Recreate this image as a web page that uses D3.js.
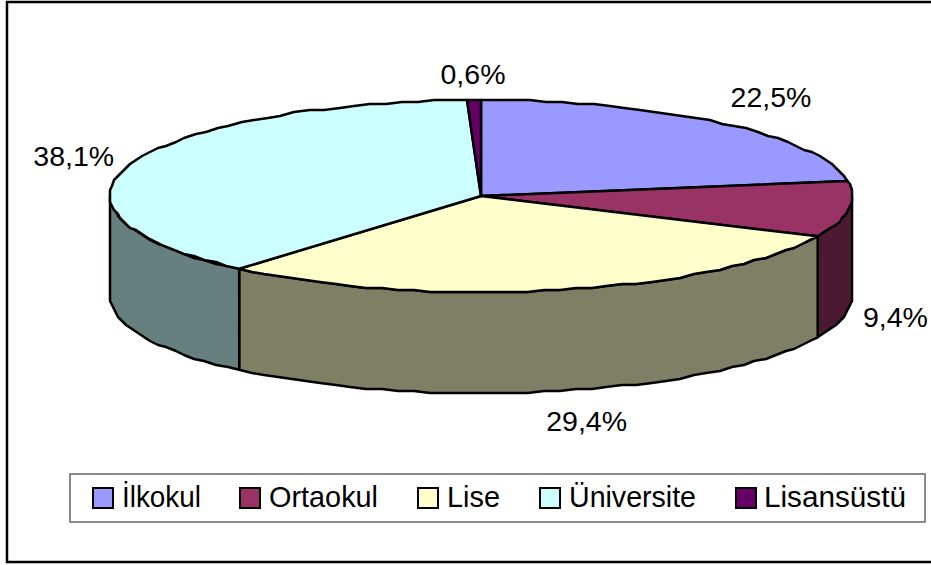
<!DOCTYPE html>
<html>
<head>
<meta charset="utf-8">
<script src="https://cdn.jsdelivr.net/npm/d3@7"></script>
<style>
  html, body { margin: 0; padding: 0; background: #fff; overflow: hidden; }
  text { font-family: "Liberation Sans", Arial, sans-serif; fill: #000; }
</style>
</head>
<body>
<div id="chart"></div>
<script>
const categories = ["İlkokul", "Ortaokul", "Lise", "Üniversite", "Lisansüstü"];
const values = [22.5, 9.4, 29.4, 38.1, 0.6];
const valueLabels = ["22,5%", "9,4%", "29,4%", "38,1%", "0,6%"];
const colors = ["#9999FF", "#993366", "#FFFFCC", "#CCFFFF", "#660066"];
const sideColors = ["#4C4C7F", "#4C1933", "#7F7F66", "#667F7F", "#330033"];

const width = 931, height = 565;
const cx = 481, cy = 196, rx = 371, ry = 96, depth = 101;

// label offset from the rim point at the middle of each slice
const labelOffsets = [[49, -26], [47, 108], [27, 131], [-57, -8], [-1, -26]];
// legend key and text positions
const legendKeyX = [93, 240, 418, 540, 736];
const legendTextX = [122, 269, 447, 569, 764];
const legendTextW = [79, 109, 53, 127, 142];

const svg = d3.select("#chart")
    .append("svg")
    .attr("width", width)
    .attr("height", height)
    .style("display", "block");

// outer chart border
svg.append("rect")
    .attr("x", 7).attr("y", 2)
    .attr("width", 940).attr("height", 560)
    .attr("fill", "#fff")
    .attr("stroke", "#000")
    .attr("stroke-width", 2.5);

const pie = d3.pie().sort(null).value(d => d)(values);

// angle is clockwise from the top, like d3.pie
const rimX = a => cx + rx * Math.sin(a);
const rimY = a => cy - ry * Math.cos(a);

const line = d3.line().x(d => d[0]).y(d => d[1]);

// the outline of the original wobbles a little, so snap the rim to a small grid
const snap = v => Math.round(v / 2) * 2;

const rimPoints = (a0, a1, dy) => {
    const n = Math.max(2, Math.ceil((a1 - a0) / 0.045));
    return d3.range(n + 1).map(i => {
        const a = a0 + (a1 - a0) * i / n;
        const onEnd = i === 0 || i === n;
        return onEnd ? [rimX(a), rimY(a) + dy] : [snap(rimX(a)), snap(rimY(a)) + dy];
    });
};

// side walls, only the front half of the disc shows
const front0 = Math.PI / 2, front1 = 3 * Math.PI / 2;
svg.append("g").selectAll("path")
    .data(pie.filter(d => d.endAngle > front0 && d.startAngle < front1))
    .join("path")
    .attr("d", d => {
        const a0 = Math.max(d.startAngle, front0), a1 = Math.min(d.endAngle, front1);
        const pts = rimPoints(a0, a1, 0).concat(rimPoints(a0, a1, depth).reverse());
        return line(pts) + "Z";
    })
    .attr("fill", d => sideColors[d.index])
    .attr("stroke", "#000")
    .attr("stroke-width", 2.5)
    .attr("stroke-linejoin", "round");

// top face
svg.append("g").selectAll("path")
    .data(pie)
    .join("path")
    .attr("d", d => line([[cx, cy]].concat(rimPoints(d.startAngle, d.endAngle, 0))) + "Z")
    .attr("fill", d => colors[d.index])
    .attr("stroke", "#000")
    .attr("stroke-width", 2.5)
    .attr("stroke-linejoin", "round");

// value labels
svg.append("g").selectAll("text")
    .data(pie)
    .join("text")
    .attr("x", d => rimX((d.startAngle + d.endAngle) / 2) + labelOffsets[d.index][0])
    .attr("y", d => rimY((d.startAngle + d.endAngle) / 2) + labelOffsets[d.index][1] + 10)
    .attr("text-anchor", "middle")
    .attr("font-size", 28.5)
    .text((d, i) => valueLabels[i]);

// legend
const legend = svg.append("g");
legend.append("rect")
    .attr("x", 70).attr("y", 474)
    .attr("width", 855).attr("height", 48)
    .attr("fill", "#fff")
    .attr("stroke", "#666")
    .attr("stroke-width", 1.5);

legend.selectAll("rect.key")
    .data(categories)
    .join("rect")
    .attr("class", "key")
    .attr("x", (d, i) => legendKeyX[i])
    .attr("y", 488)
    .attr("width", 20).attr("height", 20)
    .attr("fill", (d, i) => colors[i])
    .attr("stroke", "#000")
    .attr("stroke-width", 2);

legend.selectAll("text")
    .data(categories)
    .join("text")
    .attr("x", (d, i) => legendTextX[i])
    .attr("y", 507)
    .attr("font-size", 29)
    .attr("textLength", (d, i) => legendTextW[i])
    .attr("lengthAdjust", "spacingAndGlyphs")
    .text(d => d);
</script>
</body>
</html>
